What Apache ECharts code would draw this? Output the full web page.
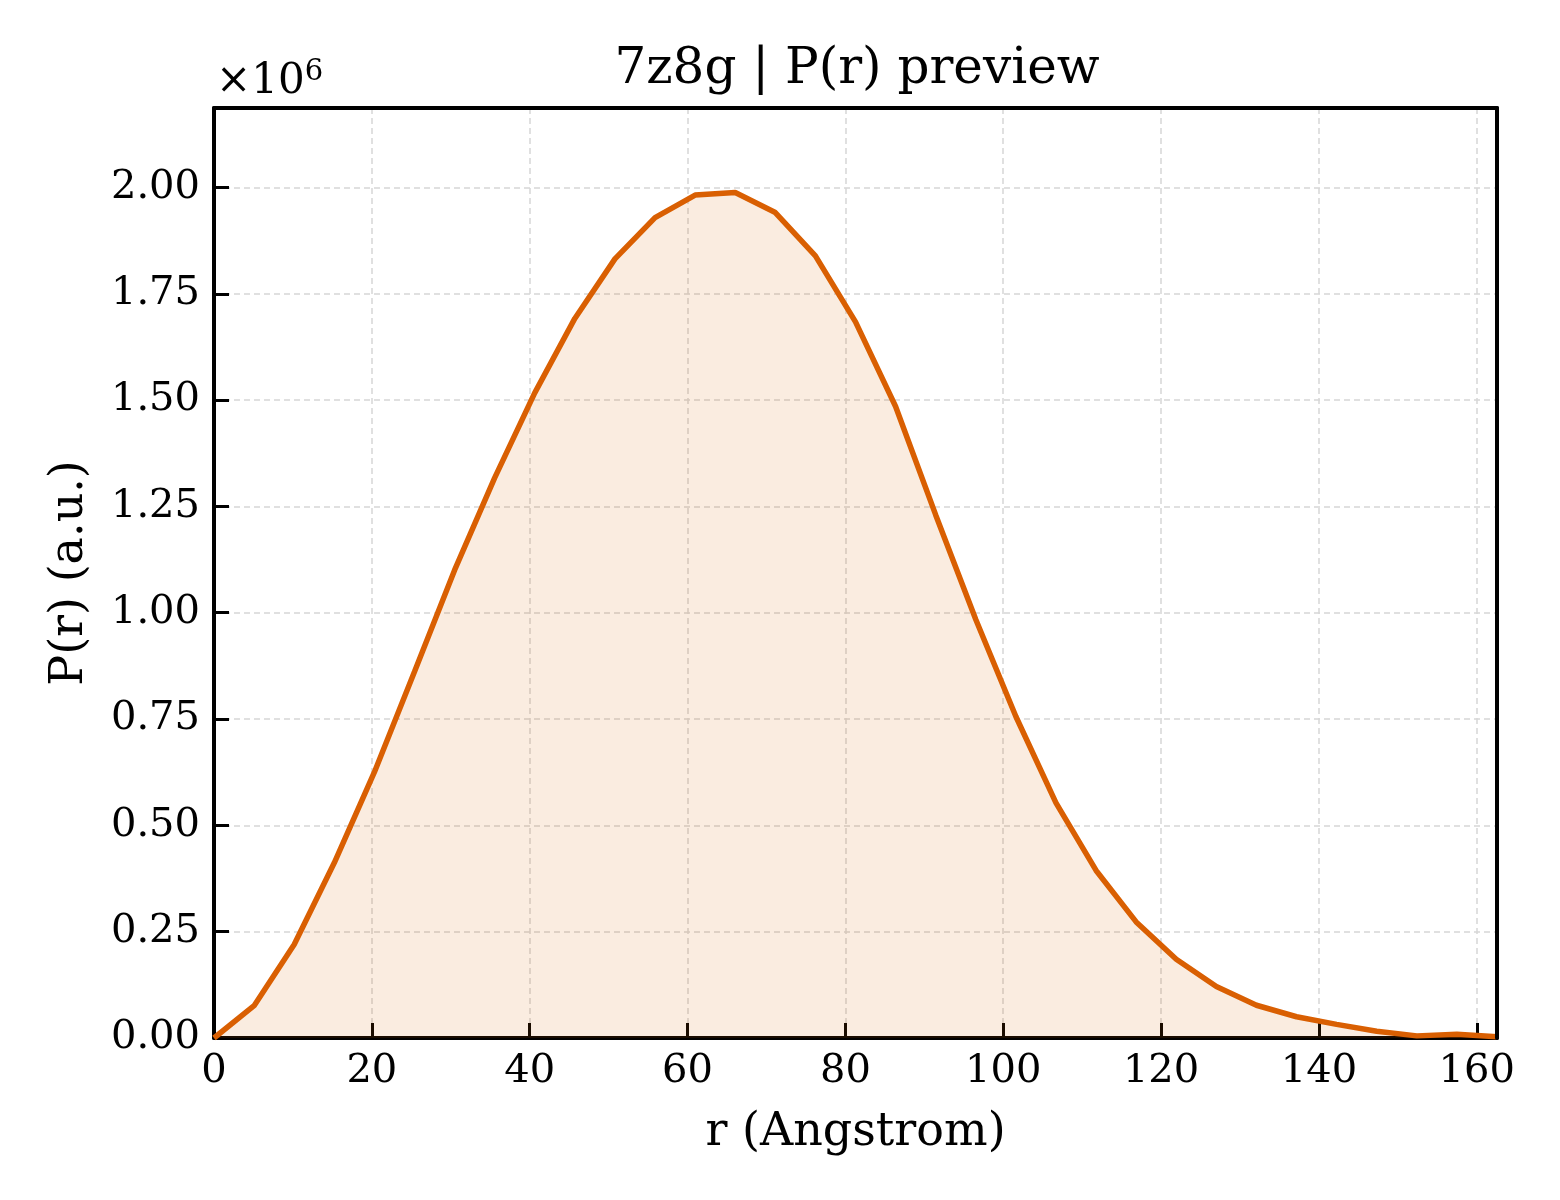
<!DOCTYPE html>
<html>
<head>
<meta charset="utf-8">
<title>7z8g | P(r) preview</title>
<script src="https://cdn.jsdelivr.net/npm/echarts@6/dist/echarts.min.js"></script>
<style>
  html, body { margin: 0; padding: 0; background: #fff; }
  #chart { width: 1560px; height: 1200px; }
</style>
</head>
<body>
<div id="chart"></div>
<script>
// r grid (Angstrom) and P(r) values
var rValues = [0, 5.08, 10.16, 15.24, 20.32, 25.4, 30.48, 35.56, 40.64, 45.72,
    50.8, 55.88, 60.96, 66.04, 71.12, 76.2, 81.28, 86.36, 91.44, 96.52,
    101.6, 106.68, 111.76, 116.84, 121.92, 127.0, 132.08, 137.16, 142.24, 147.32,
    152.4, 157.48, 162.56];
var prValues = [0, 76000, 220000, 412000, 625000, 861000, 1100000, 1317000, 1517000, 1692000,
    1832000, 1929000, 1982000, 1988000, 1941000, 1839000, 1684000, 1485000, 1230000, 984000,
    756000, 553000, 394000, 273000, 185000, 121000, 77000, 50000, 32000, 16000,
    5000, 9000, 3000];
var xTicks = [0, 20, 40, 60, 80, 100, 120, 140, 160];
var yTicks = [0, 250000, 500000, 750000, 1000000, 1250000, 1500000, 1750000, 2000000];

var FONT = 'DejaVu Serif';
var LINE_COLOR = '#d95f02';

function drawChart() {
    var myChart = echarts.init(document.getElementById('chart'));
    var points = rValues.map(function (r, i) { return [r, prValues[i]]; });
    var xMax = rValues[rValues.length - 1];
    var yMax = Math.max.apply(null, prValues) * 1.1;

    var gridLine = { show: true, lineStyle: { color: '#d6d6d6', width: 1.5, type: [6, 4] } };

    var option = {
        backgroundColor: '#fff',
        animation: false,
        title: {
            text: '7z8g | P(r) preview',
            left: 852,
            top: 40,
            textAlign: 'center',
            textStyle: { fontFamily: FONT, fontWeight: 'normal', fontSize: 50, color: '#000' }
        },
        graphic: [{
            type: 'text',
            left: 216,
            top: 58,
            style: {
                text: '{a|×10}{b|6}',
                rich: {
                    a: { fontFamily: FONT, fontSize: 42, fill: '#000', verticalAlign: 'bottom' },
                    b: { fontFamily: FONT, fontSize: 29, fill: '#000', verticalAlign: 'top', padding: [0, 0, 16, 0] }
                }
            }
        }],
        grid: { left: 214, right: 63, top: 108, bottom: 162 },
        xAxis: [{
            type: 'value',
            min: 0,
            max: xMax,
            interval: 20,
            name: 'r (Angstrom)',
            nameLocation: 'middle',
            nameGap: 72,
            nameTextStyle: { fontFamily: FONT, fontSize: 46, color: '#000' },
            axisLine: { lineStyle: { color: '#000', width: 4 } },
            axisTick: { inside: true, length: 15, lineStyle: { color: '#000', width: 3 } },
            axisLabel: {
                margin: 14,
                fontFamily: FONT, fontSize: 40, color: '#000',
                formatter: function (v) { return xTicks.indexOf(v) >= 0 ? String(v) : ''; }
            },
            splitLine: gridLine
        }, {
            // top spine
            type: 'value', position: 'top', min: 0, max: xMax, z: 10,
            axisLine: { show: true, onZero: false, lineStyle: { color: '#000', width: 4 } },
            axisTick: { show: false }, axisLabel: { show: false }, splitLine: { show: false }
        }],
        yAxis: [{
            type: 'value',
            min: 0,
            max: yMax,
            interval: 250000,
            name: 'P(r) (a.u.)',
            nameLocation: 'middle',
            nameGap: 121,
            nameTextStyle: { fontFamily: FONT, fontSize: 46, color: '#000' },
            axisLine: { show: true, lineStyle: { color: '#000', width: 4 } },
            axisTick: { show: true, inside: true, length: 15, lineStyle: { color: '#000', width: 3 } },
            axisLabel: {
                margin: 14,
                fontFamily: FONT, fontSize: 40, color: '#000',
                formatter: function (v) { return yTicks.indexOf(v) >= 0 ? (v / 1e6).toFixed(2) : ''; }
            },
            splitLine: gridLine
        }, {
            // right spine
            type: 'value', position: 'right', min: 0, max: yMax, z: 10,
            axisLine: { show: true, onZero: false, lineStyle: { color: '#000', width: 4 } },
            axisTick: { show: false }, axisLabel: { show: false }, splitLine: { show: false }
        }],
        series: [{
            type: 'line',
            data: points,
            symbol: 'none',
            smooth: false,
            lineStyle: { color: LINE_COLOR, width: 5.5 },
            areaStyle: { color: LINE_COLOR, opacity: 0.12, origin: 'start' }
        }]
    };

    myChart.setOption(option);
}

drawChart();
</script>
</body>
</html>
